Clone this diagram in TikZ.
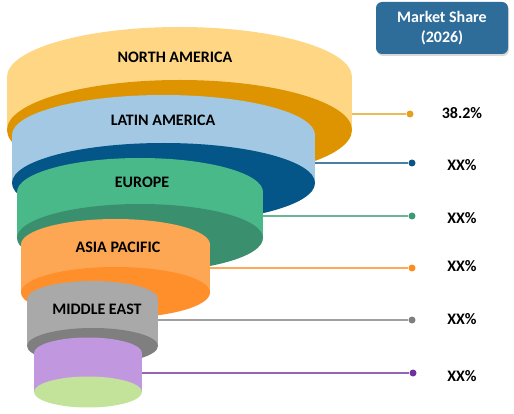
\documentclass[tikz,border=0pt]{standalone}
\usepackage{fontspec}
\setmainfont{Carlito}
\usetikzlibrary{shadows}

\definecolor{naLight}{HTML}{FED684}
\definecolor{naDark}{HTML}{DE9400}
\definecolor{laLight}{HTML}{A2C8E3}
\definecolor{laDark}{HTML}{035687}
\definecolor{euLight}{HTML}{49B98A}
\definecolor{euDark}{HTML}{3A906E}
\definecolor{apLight}{HTML}{FDA653}
\definecolor{apDark}{HTML}{FF8F2A}
\definecolor{meLight}{HTML}{A9A9A9}
\definecolor{meDark}{HTML}{7F7F7F}
\definecolor{lastLight}{HTML}{C198E0}
\definecolor{lastDark}{HTML}{C3E39A}
\definecolor{boxBlue}{HTML}{2E6D9A}
\definecolor{naLine}{HTML}{E6A020}
\definecolor{laLine}{HTML}{0B5586}
\definecolor{euLine}{HTML}{3A9B76}
\definecolor{apLine}{HTML}{FF8C1E}
\definecolor{meLine}{HTML}{7F7F7F}
\definecolor{lastLine}{HTML}{7030A0}

% cx, top cy, bottom cy, rx, ry, light, dark
\newcommand{\drum}[7]{%
  \fill[#6] (#1,#2) ellipse [x radius=#4pt, y radius=#5pt];
  \fill[#6] (#1-#4,#2) rectangle (#1+#4,#3);
  \fill[#7] (#1,#3) ellipse [x radius=#4pt, y radius=#5pt];
}

\tikzset{
  region/.style={font=\bfseries\fontsize{16}{19}\selectfont, text=black, inner sep=0pt},
  share/.style={font=\bfseries\fontsize{16}{19}\selectfont, text=black, inner sep=0pt},
  dot/.style={circle, inner sep=0pt, minimum size=7pt},
  lead/.style={line width=1.5pt, draw opacity=0.75},
}

\begin{document}
\begin{tikzpicture}[x=1pt, y=-1pt]
  \useasboundingbox (0,0) rectangle (514,414);

  % leaders
  \coordinate (naEdge) at (352,114);
  \coordinate (laEdge) at (315,163);
  \coordinate (euEdge) at (263,216);
  \coordinate (apEdge) at (210,268);
  \coordinate (meEdge) at (158,320);
  \coordinate (lastEdge) at (142,373);
  \node[dot, fill=naLine] (naDot) at (410,114) {};
  \node[dot, fill=laLine] (laDot) at (412,163) {};
  \node[dot, fill=euLine] (euDot) at (412,216) {};
  \node[dot, fill=apLine] (apDot) at (412,268) {};
  \node[dot, fill=meLine] (meDot) at (412,320) {};
  \node[dot, fill=lastLine] (lastDot) at (413,373) {};
  \draw[lead, naLine] (naEdge) -- (naDot);
  \draw[lead, laLine] (laEdge) -- (laDot);
  \draw[lead, euLine] (euEdge) -- (euDot);
  \draw[lead, apLine] (apEdge) -- (apDot);
  \draw[lead, meLine] (meEdge) -- (meDot);
  \draw[lead, lastLine] (lastEdge) -- (lastDot);

  % funnel
  \drum{179.5}{77}{130}{172.5}{50}{naLight}{naDark}
  \drum{163.5}{135}{183}{151.5}{40}{laLight}{laDark}
  \drum{140}{192}{238}{123}{34}{euLight}{euDark}
  \drum{115.5}{244.5}{292.5}{94.5}{25.5}{apLight}{apDark}
  \drum{92.5}{299}{346}{65.5}{18}{meLight}{meDark}
  \drum{88}{353}{392}{54}{15.5}{lastLight}{lastDark}

  \node[region] (na) at (175,57) {NORTH AMERICA};
  \node[region] (la) at (163,120) {LATIN AMERICA};
  \node[region] (eu) at (142,182) {EUROPE};
  \node[region] (ap) at (118,247) {ASIA PACIFIC};
  \node[region] (me) at (97,309) {MIDDLE EAST};

  \node[share] (naShare) at (462,113) {38.2\%};
  \node[share] (laShare) at (462,165) {XX\%};
  \node[share] (euShare) at (462,218) {XX\%};
  \node[share] (apShare) at (462,266) {XX\%};
  \node[share] (meShare) at (462,319) {XX\%};
  \node[share] (lastShare) at (462,376) {XX\%};

  \node[fill=boxBlue, rounded corners=6pt, minimum width=132pt, minimum height=52pt,
        text=white, align=center, font=\bfseries\fontsize{16}{20}\selectfont,
        drop shadow={shadow xshift=1pt, shadow yshift=-2pt, opacity=0.3}]
        (title) at (442,28) {Market Share\\(2026)};
\end{tikzpicture}
\end{document}
